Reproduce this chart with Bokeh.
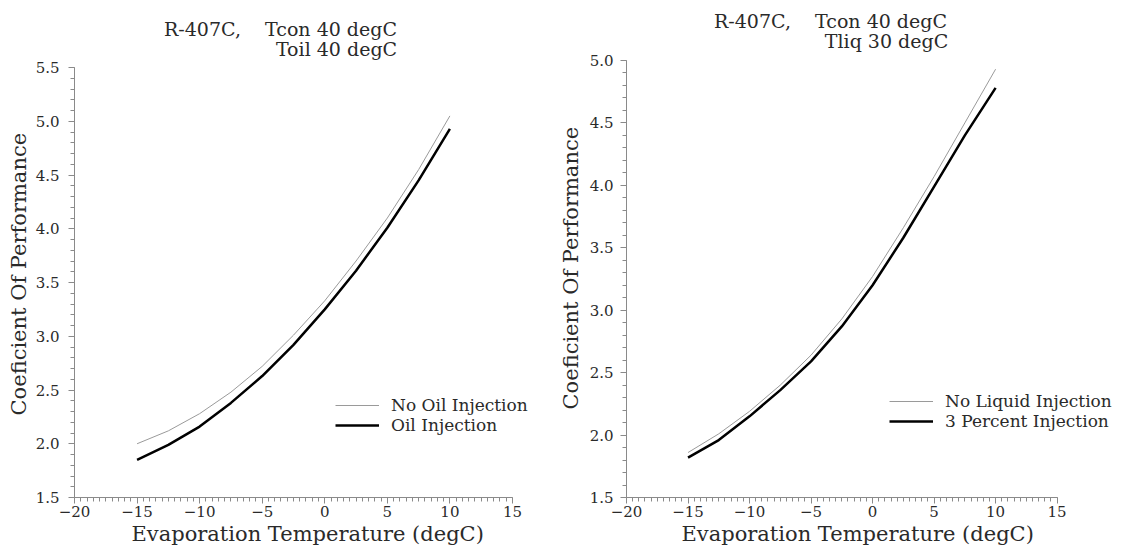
from bokeh.plotting import figure
from bokeh.layouts import row
from bokeh.models import (Range1d, SingleIntervalTicker, Legend, LegendItem, Title, Label,
                          PrintfTickFormatter)
from bokeh.embed import file_html
from bokeh.resources import INLINE

# ---- data ----
temps = [-15, -12.5, -10, -7.5, -5, -2.5, 0, 2.5, 5, 7.5, 10]
left_no_oil = [2.00, 2.12, 2.28, 2.48, 2.72, 3.01, 3.33, 3.70, 4.10, 4.55, 5.05]
left_oil = [1.85, 1.99, 2.16, 2.38, 2.63, 2.92, 3.25, 3.61, 4.01, 4.45, 4.93]
right_no_liq = [1.86, 2.01, 2.19, 2.40, 2.64, 2.93, 3.27, 3.66, 4.07, 4.50, 4.93]
right_3pct = [1.82, 1.96, 2.15, 2.36, 2.59, 2.87, 3.20, 3.58, 3.99, 4.40, 4.78]

left_labels = ["No Oil Injection", "Oil Injection"]
right_labels = ["No Liquid Injection", "3 Percent Injection"]
left_title = ["R-407C,\u00a0\u00a0\u00a0 Tcon 40 degC", "Toil 40 degC"]
right_title = ["R-407C,\u00a0\u00a0\u00a0 Tcon 40 degC", "Tliq 30 degC"]
x_label = "Evaporation Temperature (degC)"
y_label = "Coeficient Of Performance"

FONT = "DejaVu Serif"
AXIS_COL = "#8a8a8a"
TEXT_COL = "#2a2a2a"


def make_panel(width, bl, br, bb, x_end, ymax, y_end, ys_thin, ys_thick, labels, titles,
               title_pos, xlab_offset, ylab_offset, leg_loc, tick_standoff, ylab_standoff):
    # the frame reaches the top of the canvas so the two title lines sit inside it;
    # the y axis itself is bounded to 1.5 .. ymax
    p = figure(width=width, height=548, output_backend="svg", toolbar_location=None,
               x_range=Range1d(-20, x_end), y_range=Range1d(1.5, y_end),
               min_border_left=bl, min_border_right=br, min_border_top=2,
               min_border_bottom=bb)
    p.outline_line_color = None
    p.xgrid.visible = False
    p.ygrid.visible = False

    p.xaxis.ticker = SingleIntervalTicker(interval=5, num_minor_ticks=10)
    p.yaxis.ticker = SingleIntervalTicker(interval=0.5, num_minor_ticks=5)
    p.yaxis.formatter = PrintfTickFormatter(format="%.1f")
    p.xaxis.bounds = (-20, 15)
    p.yaxis.bounds = (1.5, ymax)
    for ax in (p.xaxis[0], p.yaxis[0]):
        ax.axis_line_color = AXIS_COL
        ax.major_tick_line_color = AXIS_COL
        ax.minor_tick_line_color = AXIS_COL
        ax.major_tick_in = 0
        ax.major_tick_out = 6
        ax.minor_tick_in = 0
        ax.minor_tick_out = 4
        ax.major_label_text_font = FONT
        ax.major_label_text_font_size = "15px"
        ax.major_label_text_color = TEXT_COL
    p.xaxis.major_label_standoff = 2
    p.yaxis.major_label_standoff = tick_standoff

    r1 = p.line(temps, ys_thin, line_color="#9a9a9a", line_width=1)
    r2 = p.line(temps, ys_thick, line_color="black", line_width=2.5)

    leg = Legend(items=[LegendItem(label=labels[0], renderers=[r1]),
                        LegendItem(label=labels[1], renderers=[r2])],
                 location=leg_loc, padding=0, margin=0, spacing=-6,
                 glyph_width=44, glyph_height=14, label_height=14,
                 label_standoff=12, border_line_color=None,
                 background_fill_alpha=0,
                 label_text_font=FONT, label_text_font_size="17px",
                 label_text_color=TEXT_COL)
    p.add_layout(leg, "center")

    # axis titles as Title objects for exact placement
    p.add_layout(Title(text=x_label, align="left", offset=xlab_offset, standoff=0,
                       text_font=FONT, text_font_size="21px", text_font_style="normal",
                       text_color=TEXT_COL), "below")
    p.add_layout(Title(text=y_label, align="left", offset=ylab_offset, standoff=ylab_standoff,
                       text_font=FONT, text_font_size="21px", text_font_style="normal",
                       text_color=TEXT_COL), "left")

    # two-line chart title
    for (tx, ty), txt in zip(title_pos, titles):
        p.add_layout(Label(x=tx, y=ty, x_units="screen", y_units="screen", text=txt,
                           text_font=FONT, text_font_size="19px", text_color=TEXT_COL,
                           text_align="center", text_baseline="middle"))
    return p


left = make_panel(552, 74, 2, 51, 18.04, 5.5, 6.105, left_no_oil, left_oil, left_labels,
                  left_title, [(206, 469), (262, 449)], 57, 82, (261, 62), 9, 4)
right = make_panel(587, 70, 4, 51, 21.37, 5.0, 5.464, right_no_liq, right_3pct, right_labels,
                   right_title, [(204, 477), (260, 457)], 55, 88, (263, 66), 7, 8)

layout = row(left, right)
open("out.html", "w").write(file_html(layout, INLINE))
